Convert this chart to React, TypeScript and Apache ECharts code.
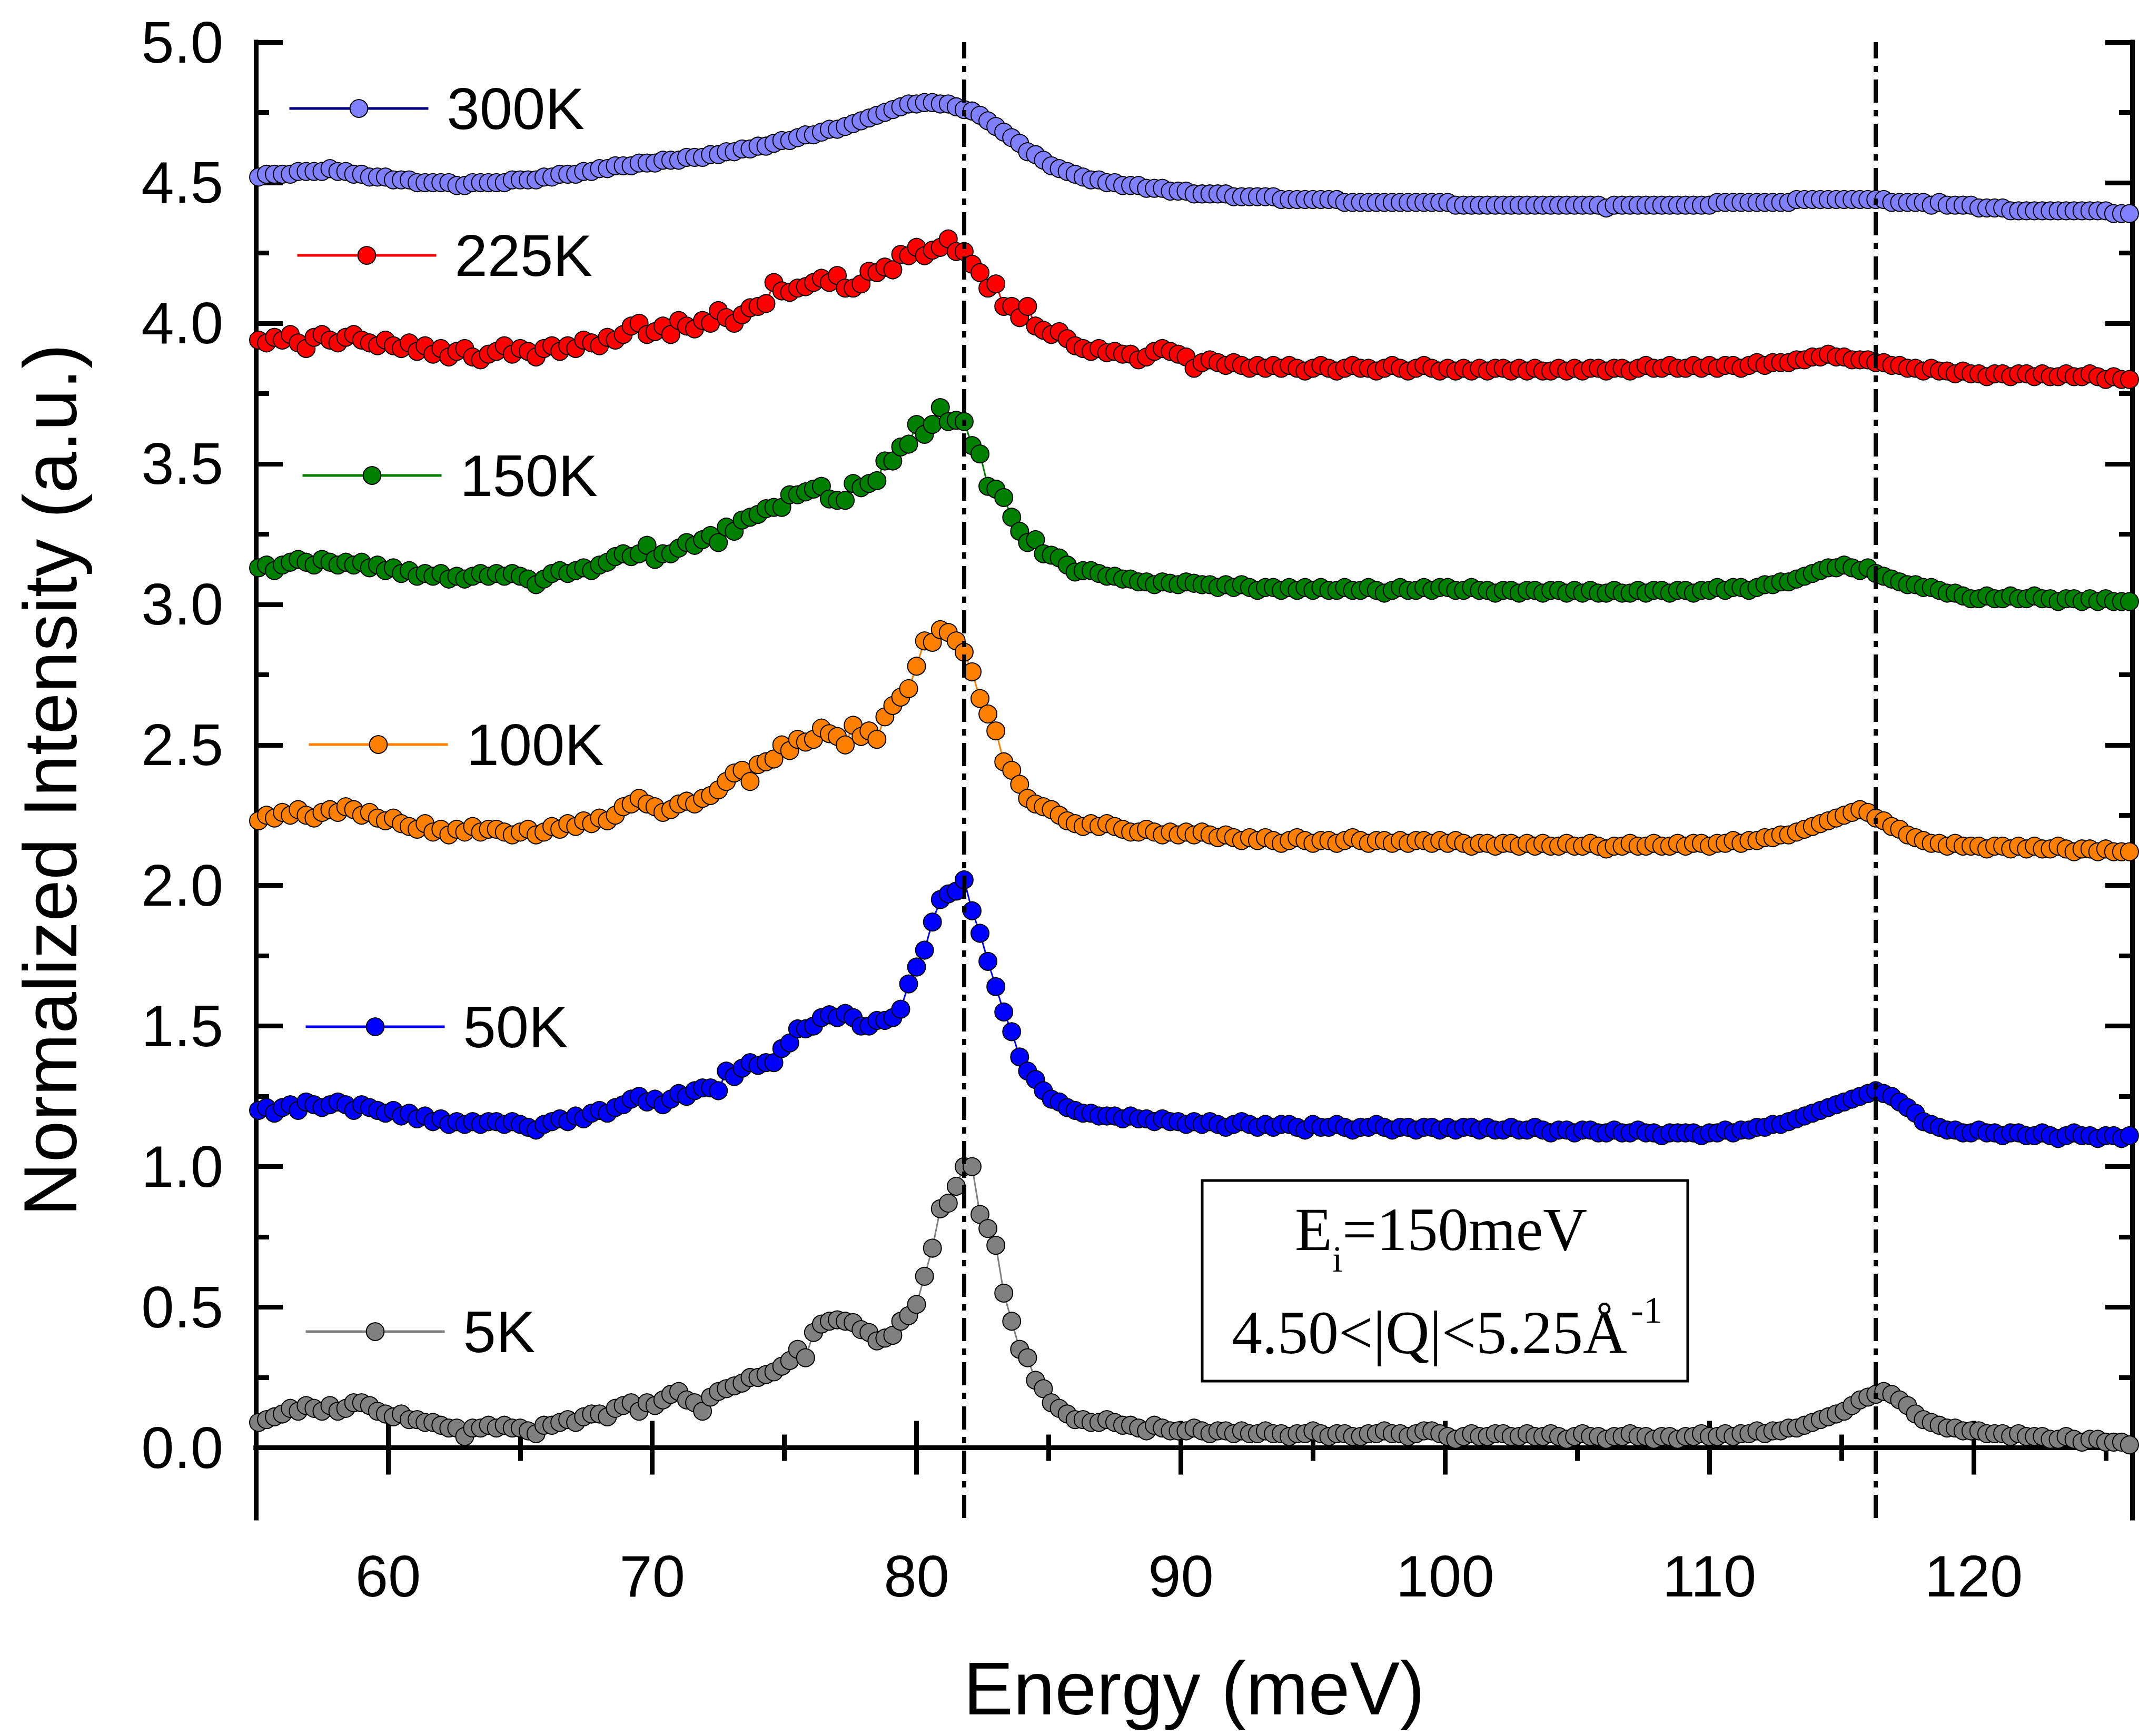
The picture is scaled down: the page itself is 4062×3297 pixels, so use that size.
import React, { useEffect, useRef } from "react";
import * as echarts from "echarts";

// Energy grid of the measured spectra (meV)
const E_START = 55.1;
const E_STEP = 0.3;

// Normalized intensity (offset) per temperature, one value per energy point
const T300 = [
  4.52,4.53,4.53,4.53,4.53,4.54,4.54,4.54,4.54,4.55,
  4.54,4.54,4.53,4.53,4.52,4.52,4.52,4.51,4.51,4.51,
  4.50,4.50,4.50,4.50,4.50,4.49,4.49,4.50,4.50,4.50,
  4.50,4.50,4.51,4.51,4.51,4.51,4.52,4.52,4.53,4.53,
  4.53,4.54,4.54,4.55,4.55,4.56,4.56,4.56,4.57,4.57,
  4.57,4.58,4.58,4.58,4.59,4.59,4.59,4.60,4.60,4.61,
  4.61,4.62,4.62,4.63,4.63,4.64,4.65,4.65,4.66,4.67,
  4.67,4.68,4.69,4.69,4.70,4.71,4.72,4.73,4.74,4.75,
  4.76,4.77,4.78,4.78,4.785,4.785,4.78,4.78,4.77,4.76,
  4.755,4.74,4.72,4.70,4.68,4.66,4.64,4.61,4.60,4.58,
  4.56,4.55,4.54,4.53,4.52,4.51,4.51,4.50,4.50,4.49,
  4.49,4.49,4.48,4.48,4.48,4.47,4.47,4.47,4.46,4.46,
  4.46,4.46,4.46,4.45,4.45,4.45,4.45,4.45,4.45,4.44,
  4.44,4.44,4.44,4.44,4.44,4.44,4.44,4.43,4.43,4.43,
  4.43,4.43,4.43,4.43,4.43,4.43,4.43,4.43,4.43,4.43,
  4.43,4.42,4.42,4.42,4.42,4.42,4.42,4.42,4.42,4.42,
  4.42,4.42,4.42,4.42,4.42,4.42,4.42,4.42,4.42,4.42,
  4.41,4.42,4.42,4.42,4.42,4.42,4.42,4.42,4.42,4.42,
  4.42,4.42,4.42,4.42,4.43,4.43,4.43,4.43,4.43,4.43,
  4.43,4.43,4.43,4.43,4.44,4.44,4.44,4.44,4.44,4.44,
  4.44,4.44,4.44,4.44,4.44,4.44,4.43,4.43,4.43,4.43,
  4.43,4.42,4.43,4.42,4.42,4.42,4.42,4.41,4.41,4.41,
  4.41,4.40,4.40,4.40,4.40,4.40,4.40,4.40,4.40,4.40,
  4.40,4.40,4.40,4.40,4.39,4.39,4.39
];
const T225 = [
  3.94,3.93,3.95,3.94,3.96,3.93,3.91,3.95,3.96,3.94,
  3.93,3.95,3.96,3.94,3.93,3.92,3.94,3.92,3.91,3.93,
  3.90,3.92,3.89,3.91,3.88,3.90,3.91,3.88,3.87,3.89,
  3.90,3.92,3.89,3.91,3.90,3.88,3.91,3.92,3.90,3.92,
  3.91,3.94,3.93,3.92,3.95,3.94,3.96,3.99,4.00,3.96,
  3.97,3.99,3.96,4.01,3.99,3.98,4.01,4.00,4.045,4.02,
  4.00,4.03,4.055,4.06,4.07,4.145,4.115,4.11,4.125,4.13,
  4.145,4.16,4.145,4.17,4.125,4.125,4.14,4.185,4.18,4.20,
  4.19,4.245,4.24,4.27,4.24,4.26,4.27,4.30,4.255,4.255,
  4.21,4.18,4.125,4.14,4.06,4.06,4.02,4.06,3.99,3.975,
  3.96,3.97,3.945,3.92,3.91,3.90,3.91,3.895,3.90,3.89,
  3.89,3.87,3.88,3.90,3.91,3.90,3.89,3.88,3.84,3.86,
  3.87,3.86,3.85,3.86,3.85,3.84,3.85,3.84,3.85,3.84,
  3.85,3.84,3.83,3.84,3.85,3.84,3.83,3.84,3.85,3.84,
  3.84,3.83,3.84,3.85,3.84,3.83,3.84,3.85,3.84,3.83,
  3.84,3.83,3.84,3.83,3.84,3.83,3.84,3.84,3.83,3.84,
  3.83,3.84,3.83,3.83,3.84,3.83,3.84,3.83,3.84,3.84,
  3.83,3.84,3.84,3.83,3.84,3.85,3.84,3.84,3.85,3.84,
  3.84,3.85,3.84,3.85,3.84,3.85,3.85,3.84,3.85,3.86,
  3.85,3.86,3.86,3.86,3.87,3.87,3.88,3.88,3.89,3.88,
  3.88,3.87,3.87,3.87,3.86,3.86,3.85,3.85,3.84,3.84,
  3.83,3.84,3.83,3.83,3.82,3.83,3.82,3.82,3.81,3.82,
  3.82,3.81,3.82,3.82,3.81,3.82,3.81,3.81,3.82,3.81,
  3.81,3.82,3.81,3.80,3.81,3.80,3.80
];
const T150 = [
  3.13,3.14,3.12,3.14,3.15,3.16,3.15,3.14,3.16,3.15,
  3.14,3.15,3.14,3.15,3.13,3.14,3.12,3.13,3.11,3.12,
  3.10,3.11,3.10,3.11,3.09,3.10,3.09,3.10,3.11,3.10,
  3.11,3.10,3.11,3.10,3.09,3.07,3.09,3.11,3.12,3.11,
  3.12,3.13,3.12,3.14,3.15,3.17,3.18,3.17,3.18,3.21,
  3.16,3.18,3.18,3.20,3.22,3.21,3.23,3.245,3.22,3.275,
  3.26,3.30,3.31,3.32,3.34,3.345,3.345,3.39,3.39,3.40,
  3.41,3.42,3.375,3.37,3.37,3.43,3.415,3.43,3.44,3.51,
  3.51,3.56,3.57,3.64,3.605,3.64,3.70,3.65,3.655,3.65,
  3.565,3.535,3.42,3.41,3.38,3.31,3.26,3.22,3.23,3.18,
  3.175,3.165,3.14,3.115,3.12,3.12,3.11,3.10,3.10,3.09,
  3.09,3.08,3.08,3.07,3.08,3.075,3.07,3.08,3.075,3.07,
  3.07,3.06,3.07,3.06,3.07,3.06,3.05,3.06,3.06,3.05,
  3.06,3.05,3.06,3.05,3.06,3.05,3.05,3.06,3.05,3.05,
  3.06,3.05,3.04,3.05,3.06,3.05,3.05,3.06,3.05,3.06,
  3.06,3.05,3.05,3.06,3.05,3.05,3.04,3.05,3.05,3.04,
  3.05,3.05,3.04,3.05,3.05,3.04,3.05,3.04,3.05,3.04,
  3.04,3.05,3.04,3.04,3.05,3.04,3.05,3.05,3.04,3.05,
  3.05,3.04,3.05,3.05,3.06,3.05,3.06,3.06,3.05,3.06,
  3.07,3.07,3.08,3.08,3.09,3.10,3.11,3.12,3.13,3.13,
  3.14,3.13,3.12,3.13,3.11,3.10,3.09,3.08,3.07,3.07,
  3.06,3.06,3.05,3.04,3.04,3.03,3.02,3.02,3.03,3.02,
  3.02,3.03,3.02,3.02,3.03,3.02,3.02,3.01,3.02,3.02,
  3.01,3.02,3.01,3.02,3.01,3.01,3.01
];
const T100 = [
  2.23,2.25,2.24,2.26,2.25,2.27,2.25,2.24,2.26,2.27,
  2.26,2.28,2.27,2.25,2.26,2.24,2.23,2.24,2.22,2.21,
  2.20,2.22,2.19,2.20,2.18,2.20,2.19,2.21,2.19,2.20,
  2.20,2.19,2.18,2.19,2.20,2.18,2.19,2.21,2.20,2.22,
  2.21,2.23,2.22,2.24,2.23,2.25,2.28,2.29,2.31,2.29,
  2.28,2.26,2.27,2.29,2.30,2.29,2.31,2.32,2.34,2.37,
  2.40,2.41,2.37,2.43,2.44,2.45,2.50,2.48,2.52,2.51,
  2.52,2.56,2.54,2.53,2.50,2.57,2.53,2.55,2.52,2.60,
  2.64,2.67,2.70,2.78,2.87,2.865,2.91,2.90,2.87,2.83,
  2.76,2.665,2.61,2.55,2.44,2.41,2.36,2.31,2.29,2.28,
  2.27,2.25,2.23,2.22,2.21,2.22,2.21,2.22,2.21,2.20,
  2.19,2.19,2.20,2.19,2.18,2.19,2.18,2.19,2.18,2.19,
  2.18,2.17,2.18,2.17,2.16,2.17,2.16,2.17,2.16,2.15,
  2.16,2.17,2.16,2.15,2.16,2.16,2.15,2.16,2.17,2.16,
  2.15,2.16,2.16,2.15,2.16,2.15,2.16,2.16,2.15,2.16,
  2.15,2.16,2.15,2.14,2.15,2.15,2.14,2.15,2.15,2.14,
  2.15,2.14,2.15,2.14,2.14,2.15,2.14,2.14,2.15,2.14,
  2.13,2.14,2.14,2.15,2.14,2.14,2.15,2.14,2.14,2.15,
  2.14,2.15,2.15,2.14,2.15,2.15,2.16,2.15,2.16,2.16,
  2.17,2.17,2.18,2.18,2.19,2.20,2.21,2.22,2.23,2.24,
  2.25,2.26,2.27,2.26,2.24,2.23,2.21,2.20,2.18,2.17,
  2.16,2.15,2.15,2.14,2.15,2.14,2.14,2.14,2.13,2.14,
  2.14,2.13,2.14,2.13,2.14,2.13,2.13,2.14,2.13,2.12,
  2.13,2.13,2.12,2.13,2.12,2.12,2.12
];
const T50 = [
  1.20,1.21,1.19,1.21,1.22,1.20,1.23,1.22,1.21,1.22,
  1.23,1.22,1.20,1.22,1.21,1.20,1.19,1.20,1.18,1.19,
  1.17,1.18,1.16,1.17,1.15,1.16,1.15,1.16,1.15,1.16,
  1.16,1.15,1.16,1.15,1.14,1.13,1.15,1.16,1.17,1.16,
  1.18,1.17,1.19,1.20,1.19,1.21,1.22,1.24,1.25,1.23,
  1.24,1.22,1.24,1.26,1.25,1.27,1.28,1.28,1.27,1.34,
  1.32,1.35,1.37,1.36,1.37,1.37,1.42,1.44,1.49,1.49,
  1.50,1.53,1.54,1.53,1.545,1.53,1.50,1.50,1.52,1.52,
  1.53,1.56,1.65,1.71,1.77,1.87,1.95,1.97,1.98,2.02,
  1.91,1.83,1.73,1.64,1.55,1.48,1.39,1.34,1.31,1.27,
  1.24,1.23,1.21,1.20,1.19,1.19,1.18,1.18,1.18,1.17,
  1.18,1.17,1.17,1.16,1.17,1.16,1.16,1.15,1.16,1.15,
  1.16,1.15,1.14,1.15,1.16,1.15,1.14,1.15,1.14,1.15,
  1.15,1.14,1.13,1.15,1.14,1.14,1.15,1.14,1.13,1.14,
  1.14,1.15,1.14,1.13,1.14,1.14,1.13,1.14,1.14,1.13,
  1.14,1.13,1.14,1.14,1.13,1.14,1.13,1.13,1.14,1.13,
  1.13,1.14,1.13,1.12,1.13,1.13,1.12,1.13,1.13,1.12,
  1.12,1.13,1.12,1.12,1.13,1.12,1.12,1.11,1.12,1.12,
  1.12,1.12,1.11,1.12,1.12,1.13,1.12,1.13,1.13,1.14,
  1.14,1.15,1.15,1.16,1.17,1.18,1.19,1.20,1.21,1.22,
  1.23,1.24,1.25,1.26,1.27,1.26,1.25,1.23,1.21,1.19,
  1.16,1.15,1.14,1.13,1.13,1.12,1.12,1.13,1.12,1.12,
  1.11,1.12,1.12,1.11,1.11,1.12,1.11,1.10,1.11,1.12,
  1.11,1.11,1.10,1.11,1.11,1.10,1.11
];
const T5 = [
  0.09,0.10,0.11,0.12,0.14,0.13,0.15,0.14,0.13,0.15,
  0.13,0.14,0.16,0.16,0.15,0.13,0.12,0.11,0.12,0.10,
  0.10,0.09,0.09,0.08,0.07,0.07,0.04,0.07,0.07,0.08,
  0.07,0.08,0.07,0.07,0.06,0.05,0.08,0.08,0.09,0.10,
  0.09,0.11,0.12,0.12,0.11,0.14,0.15,0.16,0.13,0.16,
  0.15,0.17,0.19,0.20,0.17,0.16,0.13,0.18,0.20,0.21,
  0.22,0.23,0.25,0.25,0.26,0.27,0.29,0.31,0.35,0.32,
  0.41,0.44,0.45,0.455,0.45,0.445,0.42,0.41,0.38,0.39,
  0.40,0.45,0.47,0.51,0.61,0.71,0.85,0.87,0.93,1.00,
  1.00,0.83,0.78,0.72,0.55,0.45,0.35,0.32,0.24,0.21,
  0.16,0.14,0.12,0.10,0.10,0.09,0.09,0.10,0.09,0.08,
  0.08,0.07,0.06,0.08,0.07,0.06,0.06,0.06,0.07,0.06,
  0.05,0.06,0.06,0.05,0.06,0.05,0.05,0.06,0.05,0.05,
  0.04,0.05,0.05,0.06,0.05,0.04,0.05,0.05,0.04,0.04,
  0.05,0.05,0.06,0.05,0.05,0.04,0.05,0.06,0.06,0.05,
  0.04,0.03,0.04,0.05,0.04,0.04,0.05,0.05,0.04,0.04,
  0.05,0.04,0.04,0.05,0.04,0.03,0.04,0.05,0.04,0.04,
  0.03,0.04,0.04,0.05,0.04,0.04,0.03,0.04,0.04,0.03,
  0.04,0.04,0.05,0.04,0.04,0.05,0.04,0.05,0.05,0.06,
  0.05,0.06,0.06,0.07,0.07,0.08,0.09,0.10,0.11,0.12,
  0.13,0.15,0.17,0.18,0.19,0.20,0.19,0.17,0.15,0.12,
  0.10,0.09,0.08,0.07,0.07,0.06,0.06,0.06,0.05,0.05,
  0.05,0.04,0.05,0.04,0.04,0.04,0.03,0.03,0.04,0.03,
  0.02,0.03,0.03,0.02,0.02,0.02,0.01
];

const SERIES_NAMES = ["300K", "225K", "150K", "100K", "50K", "5K"];
const SERIES_VALUES = [T300, T225, T150, T100, T50, T5];
const LINE_COLORS = ["#000080", "#ff0000", "#008000", "#ff8000", "#0000ff", "#808080"];
const FILL_COLORS = ["#8080ff", "#ff0000", "#008000", "#ff8000", "#0000ff", "#808080"];

const X_MIN = 55;
const X_MAX = 126;
const Y_MIN = -0.25;
const Y_MAX = 5.0;
const X_MAJOR = [60, 70, 80, 90, 100, 110, 120];
const X_MINOR = [65, 75, 85, 95, 105, 115, 125];
const Y_MAJOR = [0, 0.5, 1.0, 1.5, 2.0, 2.5, 3.0, 3.5, 4.0, 4.5, 5.0];
const Y_MINOR = [0.25, 0.75, 1.25, 1.75, 2.25, 2.75, 3.25, 3.75, 4.25, 4.75];
const PEAK_LINES = [81.8, 116.3];

// legend placement (left of icon line, vertical centre), in pixels
const LEGEND_POS = [
  [547, 210],
  [562, 489],
  [572, 907],
  [584, 1418],
  [578, 1954],
  [578, 2533],
];

const SANS = "Liberation Sans, Arial, sans-serif";
const SERIF = "Liberation Serif, Times New Roman, serif";

export default function App() {
  const ref = useRef<HTMLDivElement>(null);

  useEffect(() => {
    if (!ref.current) return;
    const chart = echarts.init(ref.current, undefined, { renderer: "svg" });

    const energies = T5.map((_, i) => +(E_START + i * E_STEP).toFixed(2));

    const axisLine = { show: true, lineStyle: { color: "#000", width: 9, cap: "square" } };
    const majorTick = (vals: number[]) => ({
      show: true,
      inside: true,
      length: 51,
      lineStyle: { color: "#000", width: 9 },
      customValues: vals,
    });
    const minorTick = (vals: number[]) => ({
      show: true,
      inside: true,
      length: 25,
      lineStyle: { color: "#000", width: 9 },
      customValues: vals,
    });

    const xAxes = [
      {
        type: "value", gridIndex: 0, position: "bottom", min: X_MIN, max: X_MAX,
        axisLine, axisTick: majorTick(X_MAJOR),
        axisLabel: {
          customValues: X_MAJOR, fontSize: 112, fontFamily: SANS, color: "#000", margin: 54,
        },
        splitLine: { show: false },
        name: "Energy (meV)", nameLocation: "middle", nameGap: 252,
        nameTextStyle: { fontSize: 142, fontFamily: SANS, color: "#000" },
      },
      {
        type: "value", gridIndex: 0, position: "bottom", min: X_MIN, max: X_MAX,
        axisLine: { show: false }, axisTick: minorTick(X_MINOR),
        axisLabel: { show: false }, splitLine: { show: false },
      },
      {
        type: "value", gridIndex: 0, position: "top", min: X_MIN, max: X_MAX,
        axisLine, axisTick: majorTick(X_MAJOR),
        axisLabel: { show: false }, splitLine: { show: false },
      },
      {
        type: "value", gridIndex: 0, position: "top", min: X_MIN, max: X_MAX,
        axisLine: { show: false }, axisTick: minorTick(X_MINOR),
        axisLabel: { show: false }, splitLine: { show: false },
      },
    ];

    const yAxes = [
      {
        type: "value", gridIndex: 0, position: "left", min: Y_MIN, max: Y_MAX,
        axisLine, axisTick: majorTick(Y_MAJOR),
        axisLabel: {
          customValues: Y_MAJOR, fontSize: 112, fontFamily: SANS, color: "#000", margin: 62,
          formatter: (v: number) => v.toFixed(1),
        },
        splitLine: { show: false },
        name: "Normalized Intensity (a.u.)", nameLocation: "middle", nameGap: 320,
        nameTextStyle: { fontSize: 142, fontFamily: SANS, color: "#000" },
      },
      {
        type: "value", gridIndex: 0, position: "left", min: Y_MIN, max: Y_MAX,
        axisLine: { show: false }, axisTick: minorTick(Y_MINOR),
        axisLabel: { show: false }, splitLine: { show: false },
      },
      {
        type: "value", gridIndex: 0, position: "right", min: Y_MIN, max: Y_MAX,
        axisLine, axisTick: majorTick(Y_MAJOR),
        axisLabel: { show: false }, splitLine: { show: false },
      },
      {
        type: "value", gridIndex: 0, position: "right", min: Y_MIN, max: Y_MAX,
        axisLine: { show: false }, axisTick: minorTick(Y_MINOR),
        axisLabel: { show: false }, splitLine: { show: false },
      },
    ];

    const series: any[] = SERIES_NAMES.map((name, si) => ({
      type: "line",
      name,
      xAxisIndex: 0,
      yAxisIndex: 0,
      data: SERIES_VALUES[si].map((v, i) => [energies[i], v]),
      symbol: "circle",
      symbolSize: 34,
      showSymbol: true,
      clip: true,
      itemStyle: { color: FILL_COLORS[si], borderColor: "#000", borderWidth: 2 },
      lineStyle: { color: LINE_COLORS[si], width: 3 },
      emphasis: { disabled: true },
      z: 2 + si,
    }));

    series[series.length - 1].markLine = {
      silent: true,
      symbol: ["none", "none"],
      label: { show: false },
      lineStyle: { color: "#000", width: 8, type: [44, 14, 12, 14] },
      data: PEAK_LINES.map((v) => ({ xAxis: v })),
      z: 20,
    };

    const legends = SERIES_NAMES.map((name, si) => ({
      data: [name],
      left: LEGEND_POS[si][0],
      top: LEGEND_POS[si][1] - 60,
      orient: "horizontal",
      itemWidth: 264,
      itemHeight: 42,
      padding: 0,
      selectedMode: false,
      lineStyle: { color: LINE_COLORS[si], width: 5 },
      textStyle: {
        fontSize: 112, fontFamily: SANS, color: "#000", padding: [0, 0, 0, 30],
      },
    }));

    const graphic = [
      {
        type: "rect",
        shape: { x: 2283, y: 2242, width: 922, height: 381 },
        style: { fill: "#fff", stroke: "#000", lineWidth: 5 },
        z: 30,
      },
      {
        type: "text", x: 2459, y: 2335, z: 31,
        style: { text: "E", fontSize: 116, fontFamily: SERIF, fill: "#000", verticalAlign: "middle", align: "left" },
      },
      {
        type: "text", x: 2530, y: 2391, z: 31,
        style: { text: "i", fontSize: 70, fontFamily: SERIF, fill: "#000", verticalAlign: "middle", align: "left" },
      },
      {
        type: "text", x: 2549, y: 2335, z: 31,
        style: { text: "=150meV", fontSize: 116, fontFamily: SERIF, fill: "#000", verticalAlign: "middle", align: "left" },
      },
      {
        type: "text", x: 2339, y: 2531, z: 31,
        style: { text: "4.50<|Q|<5.25Å", fontSize: 116, fontFamily: SERIF, fill: "#000", verticalAlign: "middle", align: "left" },
      },
      {
        type: "text", x: 3097, y: 2488, z: 31,
        style: { text: "-1", fontSize: 72, fontFamily: SERIF, fill: "#000", verticalAlign: "middle", align: "left" },
      },
    ];

    chart.setOption({
      animation: false,
      backgroundColor: "#fff",
      grid: { left: 486, top: 80, right: 13, bottom: 414, containLabel: false },
      xAxis: xAxes,
      yAxis: yAxes,
      legend: legends,
      series,
      graphic,
    } as any);

    return () => chart.dispose();
  }, []);

  return (
    <div
      ref={ref}
      style={{ position: "absolute", left: 0, top: 0, width: 4062, height: 3297 }}
    />
  );
}
